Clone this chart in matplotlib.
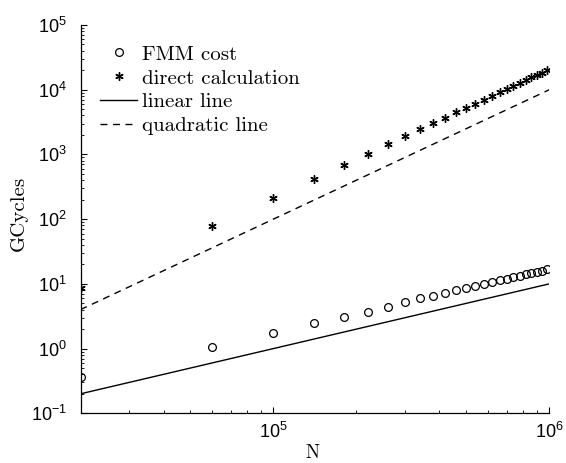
import matplotlib
matplotlib.use("Agg")
import matplotlib.pyplot as plt
import numpy as np

N = [2e4, 6e4, 1e5, 1.4e5, 1.8e5, 2.2e5, 2.6e5, 3e5, 3.4e5, 3.8e5, 4.2e5, 4.6e5,
     5e5, 5.4e5, 5.8e5, 6.2e5, 6.6e5, 7e5, 7.4e5, 7.8e5, 8.2e5, 8.6e5, 9e5, 9.4e5, 9.8e5]
fmm_cost = [0.37, 1.05, 1.74, 2.5, 3.1, 3.7, 4.4, 5.2, 6.0, 6.6, 7.3, 8.1,
            8.7, 9.4, 10.0, 10.7, 11.4, 12.0, 12.7, 13.4, 14.0, 14.7, 15.4, 16.0, 16.8]
direct = [8.5, 78, 215, 415, 680, 1030, 1430, 1900, 2430, 3040, 3700, 4450,
          5250, 6100, 7050, 8050, 9100, 10250, 11450, 12700, 14050, 15450, 16900, 18450, 20000]
line_N = [2e4, 1e6]
linear_line = [0.2, 10]
quad_N = [2e4, 6e4, 1e5, 2e5, 3e5, 4e5, 5e5, 6e5, 7e5, 8e5, 9e5, 1e6]
quadratic_line = [4, 36, 100, 400, 900, 1600, 2500, 3600, 4900, 6400, 8100, 10000]

plt.rcParams['font.family'] = ['Liberation Sans', 'DejaVu Sans']

fig = plt.figure(figsize=(5.66, 4.63), dpi=100)
ax = fig.add_axes([80.5/566, (463-413.3)/463, (549.3-80.5)/566, (413.3-25)/463])

ax.plot(N, fmm_cost, linestyle='none', marker='o', markersize=5.6,
        markerfacecolor='none', markeredgecolor='black', markeredgewidth=0.9, label='FMM cost')
ax.plot(N, direct, linestyle='none', marker=(6, 2, 0), markersize=6,
        color='black', markeredgewidth=1.0, label='direct calculation')
ax.plot(line_N, linear_line, color='black', linewidth=1.0, label='linear line')
ax.plot(quad_N, quadratic_line, color='black', linewidth=1.0, dashes=(5, 4), label='quadratic line')

ax.set_xscale('log')
ax.set_yscale('log')
ax.set_xlim(2e4, 1e6)
ax.set_ylim(1e-1, 1e5)

for s in ['top', 'right']:
    ax.spines[s].set_visible(False)
for s in ['left', 'bottom']:
    ax.spines[s].set_linewidth(0.9)

ax.tick_params(which='major', direction='in', length=4, width=0.8, labelsize=13, pad=6)
ax.tick_params(which='minor', direction='in', length=2.2, width=0.6)
ax.tick_params(axis='y', which='major', pad=10)
ax.yaxis.set_minor_locator(matplotlib.ticker.LogLocator(base=10, subs=np.arange(2, 10), numticks=20))
ax.yaxis.set_minor_formatter(matplotlib.ticker.NullFormatter())
ax.xaxis.set_minor_formatter(matplotlib.ticker.NullFormatter())

ax.set_xlabel('N', family='cmr10', fontsize=13.5)
ax.set_ylabel('GCycles', family='cmr10', fontsize=15)
ax.xaxis.set_label_coords(0.494, -0.08)
ax.yaxis.set_label_coords(-0.112, 0.516)

leg = ax.legend(loc='upper left', bbox_to_anchor=(0.0416, 0.948), frameon=False,
                prop={'family': 'cmr10', 'size': 15}, handlelength=1.78, handletextpad=0.24,
                labelspacing=0.25, borderaxespad=0.0, borderpad=0.0)

fig.savefig('out.png', dpi=100)
